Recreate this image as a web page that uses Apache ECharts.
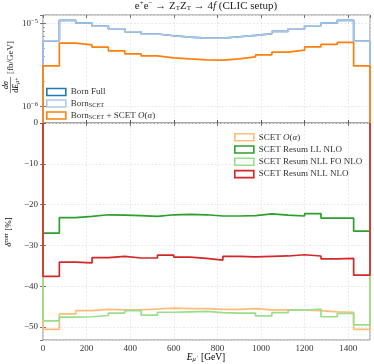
<!DOCTYPE html>
<html>
<head>
<meta charset="utf-8">
<script src="https://cdn.jsdelivr.net/npm/echarts@6/dist/echarts.min.js"></script>
<style>
  html, body { margin: 0; padding: 0; background: #fff; }
  #chart { width: 374px; height: 364px; }
</style>
</head>
<body>
<div id="chart"></div>
<script>
// bin edges of the muon energy histogram [GeV]
const binEdges = [0, 75, 150, 225, 300, 375, 450, 525, 600, 675, 750,
                  825, 900, 975, 1050, 1125, 1200, 1275, 1350, 1425, 1500];

// upper panel: dsigma/dE [fb/GeV]
const bornFull = [6.16e-6, 1.087e-5, 1.008e-5, 9.27e-6, 8.6e-6, 7.91e-6, 7.43e-6, 7.08e-6, 6.83e-6, 6.64e-6,
                  6.64e-6, 6.89e-6, 7.16e-6, 7.49e-6, 8.0e-6, 8.6e-6, 9.35e-6, 1.008e-5, 1.087e-5, 6.1e-6];
const bornScet = [6.16e-6, 1.087e-5, 1.008e-5, 9.27e-6, 8.6e-6, 7.91e-6, 7.43e-6, 7.08e-6, 6.83e-6, 6.64e-6,
                  6.64e-6, 6.89e-6, 7.16e-6, 7.49e-6, 8.0e-6, 8.6e-6, 9.35e-6, 1.008e-5, 1.087e-5, 6.1e-6];
const bornScetOa = [3.07e-6, 5.78e-6, 5.51e-6, 5.16e-6, 4.67e-6, 4.29e-6, 4.05e-6, 3.84e-6, 3.73e-6, 3.63e-6,
                    3.6e-6, 3.73e-6, 3.94e-6, 4.17e-6, 4.5e-6, 4.75e-6, 5.21e-6, 5.57e-6, 5.89e-6, 3.07e-6];

// lower panel: delta_corr [%]
const scetOa = [-50.6, -46.8, -46.0, -45.7, -45.8, -45.8, -45.6, -45.4, -45.5, -45.5,
                -45.7, -45.7, -45.5, -45.8, -45.8, -45.9, -46.0, -46.3, -46.4, -50.6];
const resumLL = [-27.0, -23.2, -22.9, -22.5, -22.6, -22.7, -22.9, -22.5, -22.4, -22.5,
                 -22.8, -22.8, -22.7, -22.3, -22.6, -22.8, -22.2, -23.3, -23.3, -26.5];
const resumNLLFO = [-48.5, -47.6, -47.5, -47.2, -46.6, -46.0, -47.1, -46.4, -46.3, -46.2,
                    -46.5, -46.6, -46.6, -47.3, -46.5, -45.9, -45.6, -47.5, -46.7, -49.5];
const resumNLL = [-37.6, -34.1, -34.3, -33.0, -32.7, -33.1, -33.1, -32.4, -32.9, -33.2,
                  -33.6, -32.7, -32.8, -32.7, -32.6, -32.3, -32.6, -33.3, -33.2, -37.3];

const FONT = 'Liberation Serif';
const TXT = '#333';
const FRAME = '#888';

const colors = {
    'Born Full': '#1f77b4',
    'BornSCET': '#aec7e8',
    'BornSCET + SCET O(α)': '#ff7f0e',
    'SCET O(α)': '#ffbb78',
    'SCET Resum LL NLO': '#2ca02c',
    'SCET Resum NLL FO NLO': '#98df8a',
    'SCET Resum NLL NLO': '#d62728'
};

// histogram outline (matplotlib histtype="step"), starting and ending on the baseline
function steps(vals, base) {
    const pts = [[binEdges[0], base]];
    vals.forEach((v, i) => {
        pts.push([binEdges[i], v], [binEdges[i + 1], v]);
    });
    pts.push([binEdges[binEdges.length - 1], base]);
    return pts;
}

const rich = {
    a: { fontFamily: FONT, fontSize: 9, color: TXT, lineHeight: 11 },
    i: { fontFamily: FONT, fontSize: 9, fontStyle: 'italic', color: TXT, lineHeight: 11 },
    sb: { fontFamily: FONT, fontSize: 6.3, color: TXT, lineHeight: 11, padding: [4, 0, 0, 0] }
};

const legendNames = {
    'Born Full': '{a|Born Full}',
    'BornSCET': '{a|Born}{sb|SCET}',
    'BornSCET + SCET O(α)': '{a|Born}{sb|SCET}{a| + SCET }{i|O}{a|(}{i|α}{a|)}',
    'SCET O(α)': '{a|SCET }{i|O}{a|(}{i|α}{a|)}',
    'SCET Resum LL NLO': '{a|SCET Resum LL NLO}',
    'SCET Resum NLL FO NLO': '{a|SCET Resum NLL FO NLO}',
    'SCET Resum NLL NLO': '{a|SCET Resum NLL NLO}'
};

function stepSeries(name, vals, panel) {
    return {
        name: name,
        type: 'line',
        xAxisIndex: panel,
        yAxisIndex: panel,
        data: steps(vals, panel === 0 ? 1e-8 : 0),
        symbol: 'none',
        clip: true,
        lineStyle: { color: colors[name], width: 1.7 },
        itemStyle: { color: colors[name] },
        animation: false
    };
}

function legendItems(names) {
    return names.map(n => ({
        name: n,
        itemStyle: { color: '#fff', borderColor: colors[n], borderWidth: 1.6 }
    }));
}

const gridLine = { show: true, lineStyle: { color: '#e4e4e4', width: 0.8, type: [2, 1.5] } };
const inTick = { inside: true, length: 3, lineStyle: { color: '#555', width: 0.8 } };
const noLabel = { show: false };

const el = document.getElementById('chart');
const chart = echarts.init(el, null, { renderer: 'canvas' });

chart.setOption({
    animation: false,
    title: {
        text: '{a|e}{sp|+}{a|e}{sp|−}{a| → Z}{sb|T}{a|Z}{sb|T}{a| → 4}{i|f}{a| (CLIC setup)}',
        left: 206,
        textAlign: 'center',
        top: 0,
        padding: 0,
        textStyle: {
            fontWeight: 'normal',
            rich: {
                a: { fontFamily: FONT, fontSize: 11, fontWeight: 'normal', color: '#222' },
                i: { fontFamily: FONT, fontSize: 11, fontWeight: 'normal', fontStyle: 'italic', color: '#222' },
                sb: { fontFamily: FONT, fontSize: 7, fontWeight: 'normal', color: '#222', padding: [4, 0, 0, 0] },
                sp: { fontFamily: FONT, fontSize: 7, fontWeight: 'normal', color: '#222', padding: [0, 0, 6, 0] }
            }
        }
    },
    grid: [
        { left: 43, top: 15, width: 327, height: 108, show: true, borderColor: FRAME, borderWidth: 1, backgroundColor: 'transparent' },
        { left: 43, top: 123, width: 327, height: 217, show: true, borderColor: FRAME, borderWidth: 1, backgroundColor: 'transparent' }
    ],
    xAxis: [
        { type: 'value', gridIndex: 0, min: 0, max: 1500, interval: 200,
          axisLine: { show: false }, axisTick: inTick, axisLabel: noLabel, splitLine: gridLine },
        { type: 'value', gridIndex: 1, min: 0, max: 1500, interval: 200,
          axisLine: { show: false }, axisTick: inTick, splitLine: gridLine,
          axisLabel: { fontFamily: FONT, fontSize: 9, color: TXT, margin: 4, showMaxLabel: false,
                       formatter: v => String(v) } },
        { type: 'value', gridIndex: 0, position: 'top', min: 0, max: 1500, interval: 200,
          axisLine: { show: false }, axisTick: inTick, axisLabel: noLabel, splitLine: { show: false } },
        { type: 'value', gridIndex: 1, position: 'top', min: 0, max: 1500, interval: 200,
          axisLine: { show: false }, axisTick: inTick, axisLabel: noLabel, splitLine: { show: false } }
    ],
    yAxis: [
        { type: 'log', gridIndex: 0, min: Math.pow(10, -6.2), max: Math.pow(10, -4.9), logBase: 10,
          axisLine: { show: false }, axisTick: inTick, splitLine: gridLine,
          axisLabel: {
              margin: 5, showMinLabel: false, showMaxLabel: false,
              formatter: function (v) {
                  const e = Math.round(Math.log10(v));
                  return '{b|10}{e|' + String(e).replace('-', '−') + '}';
              },
              rich: {
                  b: { fontFamily: FONT, fontSize: 9, color: TXT },
                  e: { fontFamily: FONT, fontSize: 6.5, color: TXT, padding: [0, 0, 5, 0] }
              }
          } },
        { type: 'value', gridIndex: 1, min: -53.2, max: 0,
          axisLine: { show: false }, axisTick: inTick, splitLine: gridLine,
          axisLabel: { fontFamily: FONT, fontSize: 9, color: TXT, margin: 5, showMinLabel: false,
                       formatter: v => String(v).replace('-', '−') } },
        { type: 'log', gridIndex: 0, position: 'right', min: Math.pow(10, -6.2), max: Math.pow(10, -4.9),
          axisLine: { show: false }, axisTick: inTick, axisLabel: noLabel, splitLine: { show: false } },
        { type: 'value', gridIndex: 1, position: 'right', min: -53.2, max: 0,
          axisLine: { show: false }, axisTick: inTick, axisLabel: noLabel, splitLine: { show: false } },
        { type: 'log', gridIndex: 0, position: 'left', min: Math.pow(10, -6.2), max: Math.pow(10, -4.9),
          axisLine: { show: false }, axisLabel: noLabel, splitLine: { show: false },
          axisTick: { inside: true, length: 1.8, lineStyle: { color: '#555', width: 0.6 },
                      customValues: [2e-6, 3e-6, 4e-6, 5e-6, 6e-6, 7e-6, 8e-6, 9e-6] } }
    ],
    legend: [
        { orient: 'vertical', left: 46, top: 87.5, padding: 0, itemWidth: 19, itemHeight: 7, itemGap: 2,
          icon: 'rect', selectedMode: false,
          data: legendItems(['Born Full', 'BornSCET', 'BornSCET + SCET O(α)']),
          formatter: n => legendNames[n], textStyle: { rich: rich } },
        { orient: 'vertical', left: 234, top: 132.7, padding: 0, itemWidth: 19, itemHeight: 7, itemGap: 3.3,
          icon: 'rect', selectedMode: false,
          data: legendItems(['SCET O(α)', 'SCET Resum LL NLO', 'SCET Resum NLL FO NLO', 'SCET Resum NLL NLO']),
          formatter: n => legendNames[n], textStyle: { rich: rich } }
    ],
    graphic: [
        // d sigma / d E_mu+ [fb/GeV]
        { type: 'group', x: 10.5, y: 68, rotation: Math.PI / 2, children: [
            { type: 'text', x: -17, y: -0.5, style: { text: '{i|d}{i|σ}', rich: { i: { fontFamily: FONT, fontSize: 8, fontStyle: 'italic', color: TXT } }, align: 'center', verticalAlign: 'bottom' } },
            { type: 'line', shape: { x1: -25, y1: 0, x2: -9, y2: 0 }, style: { stroke: TXT, lineWidth: 0.6 } },
            { type: 'text', x: -17, y: 0.8, style: { text: '{a|d}{i|E}{s|μ+}', rich: {
                a: { fontFamily: FONT, fontSize: 8, color: TXT },
                i: { fontFamily: FONT, fontSize: 8, fontStyle: 'italic', color: TXT },
                s: { fontFamily: FONT, fontSize: 5.5, fontStyle: 'italic', color: TXT, padding: [3, 0, 0, 0] } }, align: 'center', verticalAlign: 'top' } },
            { type: 'text', x: -6, y: 0, style: { text: '[fb/GeV]', fontFamily: FONT, fontSize: 9, fill: TXT, align: 'left', verticalAlign: 'middle' } }
        ] },
        // delta^corr [%]
        { type: 'text', x: 9, y: 232, rotation: Math.PI / 2, style: {
            text: '{i|δ}{s|corr}{a| [%]}', align: 'center', verticalAlign: 'middle',
            rich: {
                a: { fontFamily: FONT, fontSize: 9, color: TXT },
                i: { fontFamily: FONT, fontSize: 9, fontStyle: 'italic', color: TXT },
                s: { fontFamily: FONT, fontSize: 6, color: TXT, padding: [0, 0, 5, 0] } } } },
        // E_mu+ [GeV]
        { type: 'text', x: 206, y: 357, style: {
            text: '{i|E}{s|μ}{p|+}{a| [GeV]}', align: 'center', verticalAlign: 'middle',
            rich: {
                a: { fontFamily: FONT, fontSize: 9.5, color: TXT },
                i: { fontFamily: FONT, fontSize: 9.5, fontStyle: 'italic', color: TXT },
                s: { fontFamily: FONT, fontSize: 6.5, fontStyle: 'italic', color: TXT, padding: [4, 0, 0, 0] },
                p: { fontFamily: FONT, fontSize: 5, color: TXT, padding: [0, 0, 1, 0] } } } }
    ],
    series: [
        stepSeries('Born Full', bornFull, 0),
        stepSeries('BornSCET', bornScet, 0),
        stepSeries('BornSCET + SCET O(α)', bornScetOa, 0),
        stepSeries('SCET O(α)', scetOa, 1),
        stepSeries('SCET Resum LL NLO', resumLL, 1),
        stepSeries('SCET Resum NLL FO NLO', resumNLLFO, 1),
        stepSeries('SCET Resum NLL NLO', resumNLL, 1)
    ]
});
</script>
</body>
</html>
